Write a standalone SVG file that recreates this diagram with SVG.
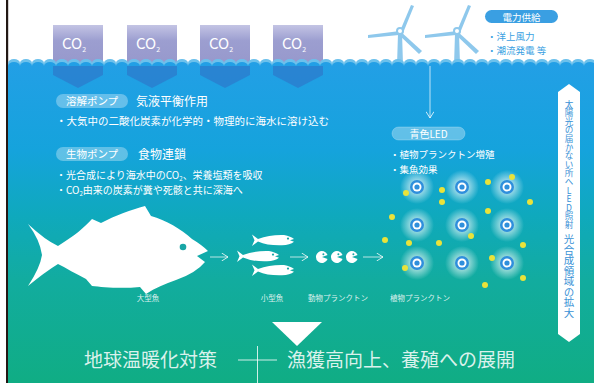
<svg xmlns="http://www.w3.org/2000/svg" width="594" height="383" viewBox="0 0 594 383">
  <defs>
    <linearGradient id="sea" x1="0" y1="60" x2="0" y2="383" gradientUnits="userSpaceOnUse">
      <stop offset="0" stop-color="#239fe6"/>
      <stop offset="0.28" stop-color="#15a3dc"/>
      <stop offset="0.48" stop-color="#0fa9bd"/>
      <stop offset="0.68" stop-color="#12ac9f"/>
      <stop offset="1" stop-color="#10ad84"/>
    </linearGradient>
    <linearGradient id="co2box" x1="0" y1="0" x2="0" y2="1">
      <stop offset="0" stop-color="#c3c4e4"/>
      <stop offset="0.35" stop-color="#9c9ed0"/>
      <stop offset="1" stop-color="#9597cb"/>
    </linearGradient>
    <radialGradient id="glow">
      <stop offset="0" stop-color="#ffffff" stop-opacity="0.95"/>
      <stop offset="0.45" stop-color="#ffffff" stop-opacity="0.5"/>
      <stop offset="1" stop-color="#ffffff" stop-opacity="0"/>
    </radialGradient>
    <!-- small fish, head to the right -->
    <g id="smallFish">
      <path d="M0,-0.5 L6,4 Q18,-0.5 32,0 Q39,1.5 42,4 L38,5.2 L42,6.8 Q38,10 30,10.3 Q16,10.8 6,6.5 L0,11 L2.5,5.2 Z" fill="#ffffff"/>
      <circle cx="36" cy="3.6" r="1.1" fill="#1aa7a6"/>
    </g>
    <!-- zooplankton -->
    <g id="zoo">
      <path d="M0,0 L5.6,-2 A6,6 0 1 0 5.6,2 Z" fill="#ffffff"/>
      <circle cx="1.4" cy="-2.8" r="1" fill="#1aa7a6"/>
    </g>
    <!-- LED light with glow -->
    <g id="led">
      <circle r="17" fill="url(#glow)"/>
      <circle r="7" fill="#2f8fdc"/>
      <circle r="4.5" fill="#ffffff"/>
      <circle r="2.6" fill="#2f8fdc"/>
    </g>
    <!-- wind turbine, hub at origin -->
    <g id="turbine" fill="#8ec8ec">
      <polygon points="-2,2 2,2 3,34 -3,34"/>
      <path d="M0,0 L11,-26 L14,-25 L3,2 Z"/>
      <path d="M0,0 L-32,4 L-32,7 L-1,4 Z"/>
      <path d="M0,0 L22,20 L19,23 L-2,3 Z"/>
      <circle r="4" fill="#8ec8ec"/>
      <circle r="2" fill="#ffffff"/>
    </g>
    <marker id="chev" viewBox="0 0 10 10" refX="9" refY="5" markerWidth="8" markerHeight="8" orient="auto" markerUnits="userSpaceOnUse">
      <path d="M1,0 L9,5 L1,10" fill="none" stroke="#ffffff" stroke-width="1"/>
    </marker>
  </defs>
  <style>
    .jp { font-family: "Noto Sans CJK JP", "Noto Sans", sans-serif; }
    .w { fill: #ffffff; }
    .pill { fill: #ffffff; fill-opacity: 0.32; }
    .yd { fill: #e9e33a; }
    .lbl { font-size: 7.5px; fill: #ffffff; fill-opacity: 0.85; text-anchor: middle; }
    .flow { stroke: #ffffff; stroke-opacity: 0.7; stroke-width: 1; fill: none; }
  </style>

  <!-- sky and frame -->
  <rect width="594" height="383" fill="#ffffff"/>
  <rect x="6" y="0" width="2.2" height="383" fill="#231815"/>

  <!-- wind turbines -->
  <g id="turbines">
    <use href="#turbine" x="400" y="31"/>
    <use href="#turbine" x="457" y="31"/>
  </g>

  <!-- CO2 boxes above the water -->
  <g id="co2">
    <rect x="53" y="25" width="50" height="45" fill="url(#co2box)"/>
    <rect x="127" y="25" width="50" height="45" fill="url(#co2box)"/>
    <rect x="200" y="25" width="50" height="45" fill="url(#co2box)"/>
    <rect x="273" y="25" width="50" height="45" fill="url(#co2box)"/>
  </g>

  <!-- sea -->
  <path d="M8,63 a6,4 0 0 1 12,0 a6,4 0 0 1 12,0 a6,4 0 0 1 12,0 a6,4 0 0 1 12,0 a6,4 0 0 1 12,0 a6,4 0 0 1 12,0 a6,4 0 0 1 12,0 a6,4 0 0 1 12,0 a6,4 0 0 1 12,0 a6,4 0 0 1 12,0 a6,4 0 0 1 12,0 a6,4 0 0 1 12,0 a6,4 0 0 1 12,0 a6,4 0 0 1 12,0 a6,4 0 0 1 12,0 a6,4 0 0 1 12,0 a6,4 0 0 1 12,0 a6,4 0 0 1 12,0 a6,4 0 0 1 12,0 a6,4 0 0 1 12,0 a6,4 0 0 1 12,0 a6,4 0 0 1 12,0 a6,4 0 0 1 12,0 a6,4 0 0 1 12,0 a6,4 0 0 1 12,0 a6,4 0 0 1 12,0 a6,4 0 0 1 12,0 a6,4 0 0 1 12,0 a6,4 0 0 1 12,0 a6,4 0 0 1 12,0 a6,4 0 0 1 12,0 a6,4 0 0 1 12,0 a6,4 0 0 1 12,0 a6,4 0 0 1 12,0 a6,4 0 0 1 12,0 a6,4 0 0 1 12,0 a6,4 0 0 1 12,0 a6,4 0 0 1 12,0 a6,4 0 0 1 12,0 a6,4 0 0 1 12,0 a6,4 0 0 1 12,0 a6,4 0 0 1 12,0 a6,4 0 0 1 12,0 a6,4 0 0 1 12,0 a6,4 0 0 1 12,0 a6,4 0 0 1 12,0 a6,4 0 0 1 12,0 a6,4 0 0 1 12,0 a6,4 0 0 1 12,0 L594,383 L8,383 Z" fill="#6cc1ec"/>
  <path d="M8,66 a6,4 0 0 1 12,0 a6,4 0 0 1 12,0 a6,4 0 0 1 12,0 a6,4 0 0 1 12,0 a6,4 0 0 1 12,0 a6,4 0 0 1 12,0 a6,4 0 0 1 12,0 a6,4 0 0 1 12,0 a6,4 0 0 1 12,0 a6,4 0 0 1 12,0 a6,4 0 0 1 12,0 a6,4 0 0 1 12,0 a6,4 0 0 1 12,0 a6,4 0 0 1 12,0 a6,4 0 0 1 12,0 a6,4 0 0 1 12,0 a6,4 0 0 1 12,0 a6,4 0 0 1 12,0 a6,4 0 0 1 12,0 a6,4 0 0 1 12,0 a6,4 0 0 1 12,0 a6,4 0 0 1 12,0 a6,4 0 0 1 12,0 a6,4 0 0 1 12,0 a6,4 0 0 1 12,0 a6,4 0 0 1 12,0 a6,4 0 0 1 12,0 a6,4 0 0 1 12,0 a6,4 0 0 1 12,0 a6,4 0 0 1 12,0 a6,4 0 0 1 12,0 a6,4 0 0 1 12,0 a6,4 0 0 1 12,0 a6,4 0 0 1 12,0 a6,4 0 0 1 12,0 a6,4 0 0 1 12,0 a6,4 0 0 1 12,0 a6,4 0 0 1 12,0 a6,4 0 0 1 12,0 a6,4 0 0 1 12,0 a6,4 0 0 1 12,0 a6,4 0 0 1 12,0 a6,4 0 0 1 12,0 a6,4 0 0 1 12,0 a6,4 0 0 1 12,0 a6,4 0 0 1 12,0 a6,4 0 0 1 12,0 a6,4 0 0 1 12,0 a6,4 0 0 1 12,0 L594,383 L8,383 Z" fill="url(#sea)"/>

  <!-- CO2 arrows sinking into the water -->
  <g id="co2-sink" fill="#2a7fcf" fill-opacity="0.85">
    <polygon points="53,66 103,66 103,75 78,88 53,75"/>
    <polygon points="127,66 177,66 177,75 152,88 127,75"/>
    <polygon points="200,66 250,66 250,75 225,88 200,75"/>
    <polygon points="273,66 323,66 323,75 298,88 273,75"/>
  </g>
  <g id="co2-labels" class="jp w" font-size="15">
    <text x="62" y="49">CO<tspan font-size="7" dy="3">2</tspan></text>
    <text x="136" y="49">CO<tspan font-size="7" dy="3">2</tspan></text>
    <text x="209" y="49">CO<tspan font-size="7" dy="3">2</tspan></text>
    <text x="282" y="49">CO<tspan font-size="7" dy="3">2</tspan></text>
  </g>

  <!-- power supply note -->
  <g id="power">
    <rect x="485" y="10" width="73" height="13" rx="6.5" fill="#3a9fe2"/>
    <text x="521.5" y="20.5" class="jp w" font-size="9.5" text-anchor="middle">電力供給</text>
    <text x="487" y="40" class="jp" font-size="9.5" fill="#3a9fe2">・洋上風力</text>
    <text x="487" y="54" class="jp" font-size="9.5" fill="#3a9fe2">・潮流発電 等</text>
  </g>

  <!-- dissolution pump -->
  <g id="dissolution-pump" class="jp">
    <rect x="56" y="94" width="72" height="14" rx="7" class="pill"/>
    <text x="92" y="105" class="w" font-size="10.5" text-anchor="middle">溶解ポンプ</text>
    <text x="136" y="106" class="w" font-size="12">気液平衡作用</text>
    <text x="56" y="125" class="w" font-size="10.5">・大気中の二酸化炭素が化学的・物理的に海水に溶け込む</text>
  </g>

  <!-- biological pump -->
  <g id="biological-pump" class="jp">
    <rect x="56" y="147" width="72" height="14" rx="7" class="pill"/>
    <text x="92" y="158" class="w" font-size="10.5" text-anchor="middle">生物ポンプ</text>
    <text x="138" y="159" class="w" font-size="12">食物連鎖</text>
    <text x="56" y="179" class="w" font-size="10">・光合成により海水中のCO<tspan font-size="6" dy="1.5">2</tspan><tspan dy="-1.5">、栄養塩類を吸収</tspan></text>
    <text x="56" y="194" class="w" font-size="10">・CO<tspan font-size="6" dy="1.5">2</tspan><tspan dy="-1.5">由来の炭素が糞や死骸と共に深海へ</tspan></text>
  </g>

  <!-- blue LED -->
  <g id="blue-led" class="jp">
    <rect x="392" y="127" width="73" height="13" rx="6.5" class="pill" stroke="#ffffff" stroke-opacity="0.4" stroke-width="0.6"/>
    <text x="428.5" y="137.5" class="w" font-size="10" text-anchor="middle">青色LED</text>
    <text x="390" y="158" class="w" font-size="9.5">・植物プランクトン増殖</text>
    <text x="390" y="173" class="w" font-size="9.5">・集魚効果</text>
  </g>

  <!-- LED lights -->
  <g id="led-grid">
    <use href="#led" x="417" y="187"/>
    <use href="#led" x="462" y="187"/>
    <use href="#led" x="507" y="187"/>
    <use href="#led" x="417" y="225"/>
    <use href="#led" x="462" y="225"/>
    <use href="#led" x="507" y="225"/>
    <use href="#led" x="417" y="263"/>
    <use href="#led" x="462" y="263"/>
    <use href="#led" x="507" y="263"/>
  </g>

  <!-- phytoplankton -->
  <g id="phytoplankton">
    <circle class="yd" cx="488" cy="182" r="3"/>
    <circle class="yd" cx="512" cy="177" r="3"/>
    <circle class="yd" cx="406" cy="193" r="3"/>
    <circle class="yd" cx="442" cy="190" r="3"/>
    <circle class="yd" cx="442" cy="202" r="3"/>
    <circle class="yd" cx="530" cy="202" r="3"/>
    <circle class="yd" cx="488" cy="211" r="3"/>
    <circle class="yd" cx="392" cy="217" r="3"/>
    <circle class="yd" cx="471" cy="236" r="3"/>
    <circle class="yd" cx="385" cy="240" r="3"/>
    <circle class="yd" cx="409" cy="243" r="3"/>
    <circle class="yd" cx="439" cy="243" r="3"/>
    <circle class="yd" cx="523" cy="245" r="3"/>
    <circle class="yd" cx="492" cy="258" r="3"/>
    <circle class="yd" cx="405" cy="268" r="3"/>
    <circle class="yd" cx="523" cy="278" r="3"/>
    <circle class="yd" cx="485" cy="285" r="3"/>
  </g>

  <!-- large fish -->
  <g id="large-fish">
    <path d="M28,224 Q45,240 58,246 C74,236 84,228 92,219 L101,223 C116,215 131,210 145,206 L151,216 C166,220 181,229 192,239 Q202,245 208,251 L197,256 L205,262 Q196,273 176,280 C165,284 155,288 146,294 L140,287 C120,289 102,287 92,286 L86,279 C76,274 66,268 58,264 Q45,272 28,286 Q40,268 42,255 Q40,240 28,224 Z" fill="#ffffff"/>
    <circle cx="183" cy="247" r="3.3" fill="#18a6a6"/>
  </g>

  <!-- small fish -->
  <g id="small-fish">
    <use href="#smallFish" x="252" y="235"/>
    <use href="#smallFish" x="237" y="251"/>
    <use href="#smallFish" x="252" y="265"/>
  </g>

  <!-- zooplankton -->
  <g id="zooplankton">
    <use href="#zoo" x="322" y="257"/>
    <use href="#zoo" x="337" y="257"/>
    <use href="#zoo" x="352" y="257"/>
  </g>

  <!-- connectors -->
  <g id="connectors" class="flow">
    <line x1="430" y1="66" x2="430" y2="118" marker-end="url(#chev)"/>
    <line x1="210" y1="257" x2="228" y2="257" marker-end="url(#chev)"/>
    <line x1="290" y1="257" x2="308" y2="257" marker-end="url(#chev)"/>
    <line x1="363" y1="257" x2="383" y2="257" marker-end="url(#chev)"/>
  </g>

  <!-- food chain labels -->
  <g id="labels" class="jp">
    <text x="148" y="301" class="lbl">大型魚</text>
    <text x="272" y="301" class="lbl">小型魚</text>
    <text x="338" y="301" class="lbl">動物プランクトン</text>
    <text x="420" y="301" class="lbl">植物プランクトン</text>
  </g>

  <!-- LED reach bar -->
  <g id="reach-bar">
    <polygon points="558,92 569,84 580,92 580,334 569,342 558,334" fill="#ffffff"/>
    <text x="569" y="100" class="jp" font-size="8.6" fill="#3a92d6" style="writing-mode: vertical-rl; text-orientation: upright;">太陽光の届かない所へLED照射</text>
    <text x="569" y="234" class="jp" font-size="10.5" fill="#3a92d6" style="writing-mode: vertical-rl; text-orientation: upright;">光合成領域の拡大</text>
  </g>

  <!-- outcome -->
  <g id="outcome" class="jp">
    <polygon points="272,322 322,322 297,346" fill="#ffffff"/>
    <text x="84" y="367" class="w" font-size="19" fill-opacity="0.85">地球温暖化対策</text>
    <line x1="238" y1="360" x2="277" y2="360" stroke="#ffffff" stroke-opacity="0.8" stroke-width="1"/>
    <line x1="257.5" y1="346" x2="257.5" y2="383" stroke="#ffffff" stroke-opacity="0.8" stroke-width="1"/>
    <text x="287" y="367" class="w" font-size="19" fill-opacity="0.85">漁獲高向上、養殖への展開</text>
  </g>
</svg>
